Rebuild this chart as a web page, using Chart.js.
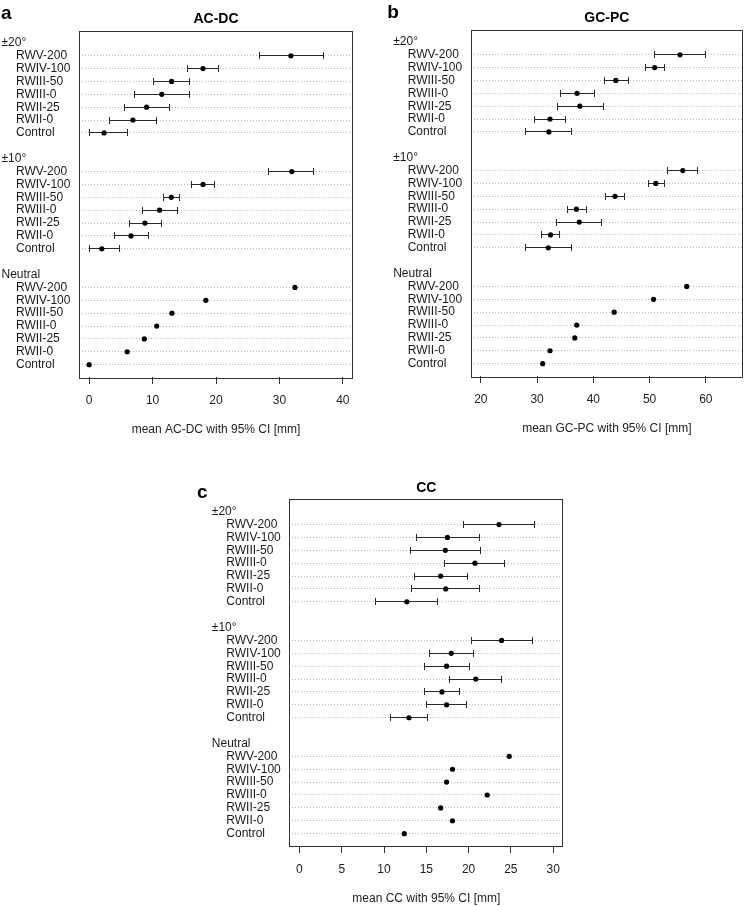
<!DOCTYPE html>
<html>
<head>
<meta charset="utf-8">
<script src="https://cdn.jsdelivr.net/npm/chart.js@4.4.1/dist/chart.umd.min.js"></script>
<style>
  html, body { margin: 0; padding: 0; background: #fff; overflow: hidden; }
  body { width: 747px; height: 906px; position: relative; }
  canvas { position: absolute; }
</style>
</head>
<body>
<canvas id="chartA" width="370" height="445" style="left:0;top:0"></canvas>
<canvas id="chartB" width="377" height="445" style="left:370px;top:0"></canvas>
<canvas id="chartC" width="400" height="466" style="left:190px;top:440px"></canvas>
<script>
// categories and groups (top to bottom)
const groups = ['±20°', '±10°', 'Neutral'];
const categories = ['RWV-200', 'RWIV-100', 'RWIII-50', 'RWIII-0', 'RWII-25', 'RWII-0', 'Control'];

// AC-DC [mm]
const acdc20Mean = [31.8, 17.95, 13.0, 11.45, 9.05, 6.9, 2.35];
const acdc20Lo   = [26.8, 15.5, 10.2, 7.15, 5.55, 3.2, 0.0];
const acdc20Hi   = [36.9, 20.4, 15.75, 15.75, 12.6, 10.55, 6.05];
const acdc10Mean = [31.95, 17.95, 12.95, 11.1, 8.8, 6.6, 2.0];
const acdc10Lo   = [28.35, 16.2, 11.75, 8.4, 6.3, 4.0, 0.0];
const acdc10Hi   = [35.4, 19.8, 14.2, 13.9, 11.35, 9.3, 4.85];
const acdcNeutral = [32.45, 18.4, 13.05, 10.65, 8.7, 6.0, 0.0];
const acdcTicks = [0, 10, 20, 30, 40];

// GC-PC [mm]
const gcpc20Mean = [55.4, 50.9, 44.0, 37.1, 37.6, 32.3, 32.1];
const gcpc20Lo   = [50.8, 49.2, 42.0, 34.1, 33.6, 29.5, 27.9];
const gcpc20Hi   = [60.0, 52.6, 46.2, 40.2, 41.8, 35.0, 36.2];
const gcpc10Mean = [55.9, 51.1, 43.85, 37.0, 37.5, 32.4, 32.0];
const gcpc10Lo   = [53.2, 49.8, 42.2, 35.4, 33.4, 30.8, 27.9];
const gcpc10Hi   = [58.6, 52.6, 45.5, 38.7, 41.5, 34.0, 36.1];
const gcpcNeutral = [56.6, 50.7, 43.7, 37.05, 36.7, 32.3, 31.0];
const gcpcTicks = [20, 30, 40, 50, 60];

// CC [mm]
const cc20Mean = [23.6, 17.5, 17.25, 20.75, 16.7, 17.3, 12.7];
const cc20Lo   = [19.4, 13.8, 13.1, 17.2, 13.6, 13.3, 9.05];
const cc20Hi   = [27.75, 21.25, 21.4, 24.3, 19.85, 21.25, 16.35];
const cc10Mean = [23.9, 17.95, 17.4, 20.85, 16.85, 17.4, 12.95];
const cc10Lo   = [20.3, 15.4, 14.75, 17.8, 14.8, 15.05, 10.8];
const cc10Hi   = [27.6, 20.55, 20.1, 23.9, 18.95, 19.7, 15.1];
const ccNeutral = [24.8, 18.1, 17.4, 22.2, 16.7, 18.1, 12.4];
const ccTicks = [0, 5, 10, 15, 20, 25, 30];

const FONT = "'Liberation Sans', Arial, sans-serif";
const groupRows = [0, 9, 18];  // header row of each group, items follow

// row index -> category label
const rowLabels = {};
groupRows.forEach(g => categories.forEach((c, i) => { rowLabels[g + 1 + i] = c; }));
const itemRows = Object.keys(rowLabels).map(Number);

// draws the CI whiskers, the frame, group headers, title and panel letter
const panelDecor = {
  id: 'panelDecor',
  beforeDatasetsDraw(chart) {
    const { ctx, scales: { x, y } } = chart;
    ctx.save();
    ctx.strokeStyle = '#2a2a2a';
    ctx.lineWidth = 1;
    chart.data.datasets[0].data.forEach(p => {
      if (p.lo == null) return;
      const py = Math.round(y.getPixelForValue(p.y) - 0.5) + 0.5;
      const x1 = Math.round(x.getPixelForValue(p.lo) - 0.5) + 0.5;
      const x2 = Math.round(x.getPixelForValue(p.hi) - 0.5) + 0.5;
      ctx.beginPath();
      ctx.moveTo(x1, py); ctx.lineTo(x2, py);
      ctx.moveTo(x1, py - 3.5); ctx.lineTo(x1, py + 3.5);
      ctx.moveTo(x2, py - 3.5); ctx.lineTo(x2, py + 3.5);
      ctx.stroke();
    });
    ctx.restore();
  },
  afterDraw(chart, args, opts) {
    const { ctx, chartArea: a, scales: { y } } = chart;
    ctx.save();
    ctx.strokeStyle = '#333';
    ctx.lineWidth = 1;
    ctx.strokeRect(Math.round(a.left) + 0.5, Math.round(a.top) + 0.5,
                   Math.round(a.right - a.left) - 1, Math.round(a.bottom - a.top));
    // group headers
    ctx.fillStyle = '#1a1a1a';
    ctx.font = '12px ' + FONT;
    ctx.textAlign = 'left';
    ctx.textBaseline = 'middle';
    groupRows.forEach((r, i) => ctx.fillText(groups[i], a.left - 77.5, y.getPixelForValue(r)));
    // title
    ctx.fillStyle = '#000';
    ctx.font = 'bold 14px ' + FONT;
    ctx.textAlign = 'center';
    ctx.fillText(opts.title, (a.left + a.right) / 2, a.top - 11.5);
    // panel letter
    ctx.font = 'bold 19px ' + FONT;
    ctx.textAlign = 'left';
    ctx.textBaseline = 'alphabetic';
    ctx.fillText(opts.letter, opts.letterX, opts.letterY);
    ctx.restore();
  }
};

function makePanel(id, p) {
  const pts = [];
  [[p.m20, p.lo20, p.hi20], [p.m10, p.lo10, p.hi10], [p.neutral]].forEach((s, gi) => {
    s[0].forEach((v, i) => {
      const pt = { x: v, y: groupRows[gi] + 1 + i };
      if (s[1]) { pt.lo = s[1][i]; pt.hi = s[2][i]; }
      pts.push(pt);
    });
  });

  const canvas = document.getElementById(id);
  const W = canvas.width, H = canvas.height;

  new Chart(canvas.getContext('2d'), {
    type: 'scatter',
    data: {
      datasets: [{
        data: pts,
        pointRadius: 2.6,
        pointBackgroundColor: '#000',
        pointBorderWidth: 0
      }]
    },
    plugins: [panelDecor],
    options: {
      responsive: false,
      animation: false,
      events: [],
      layout: {
        padding: { left: p.box.left - 63, right: W - p.box.right, top: p.box.top, bottom: 0 }
      },
      plugins: {
        legend: { display: false },
        tooltip: { enabled: false },
        panelDecor: { title: p.title, letter: p.letter, letterX: p.letterX, letterY: p.letterY }
      },
      scales: {
        x: {
          type: 'linear',
          min: p.xMin,
          max: p.xMax,
          afterBuildTicks: s => { s.ticks = p.ticks.map(v => ({ value: v })); },
          afterFit: s => { s.height = H - p.box.bottom; },
          grid: { drawOnChartArea: false, drawTicks: true, tickLength: 7, color: '#333' },
          border: { display: false },
          ticks: {
            autoSkip: false, maxRotation: 0, padding: 9,
            color: '#222', font: { family: FONT, size: 12 },
            callback: v => String(v)
          },
          title: {
            display: true, text: p.axisTitle, color: '#222',
            font: { family: FONT, size: 12 },
            padding: { top: 0, bottom: p.titlePad }
          }
        },
        y: {
          type: 'linear',
          reverse: true,
          min: -0.96,
          max: 25.96,
          afterBuildTicks: s => { s.ticks = itemRows.map(v => ({ value: v })); },
          afterFit: s => { s.width = 63; },
          grid: { color: '#b4b4b4', lineWidth: 1, drawTicks: false, tickLength: 0 },
          border: { display: false, dash: [1, 2] },
          ticks: {
            autoSkip: false, crossAlign: 'far', padding: 0,
            color: '#1a1a1a', font: { family: FONT, size: 12 },
            callback: v => rowLabels[v] || ''
          }
        }
      }
    }
  });
}

makePanel('chartA', {
  title: 'AC-DC', letter: 'a', letterX: 1, letterY: 18.5,
  axisTitle: 'mean AC-DC with 95% CI [mm]',
  box: { left: 79, right: 353, top: 30.5, bottom: 377 }, titlePad: 7.8,
  xMin: -1.6, xMax: 41.6, ticks: acdcTicks,
  m20: acdc20Mean, lo20: acdc20Lo, hi20: acdc20Hi,
  m10: acdc10Mean, lo10: acdc10Lo, hi10: acdc10Hi,
  neutral: acdcNeutral
});

makePanel('chartB', {
  title: 'GC-PC', letter: 'b', letterX: 17.3, letterY: 18.3,
  axisTitle: 'mean GC-PC with 95% CI [mm]',
  box: { left: 100.7, right: 373.3, top: 29.5, bottom: 376 }, titlePad: 8.8,
  xMin: 18.2, xMax: 66.6, ticks: gcpcTicks,
  m20: gcpc20Mean, lo20: gcpc20Lo, hi20: gcpc20Hi,
  m10: gcpc10Mean, lo10: gcpc10Lo, hi10: gcpc10Hi,
  neutral: gcpcNeutral
});

makePanel('chartC', {
  title: 'CC', letter: 'c', letterX: 7, letterY: 57.5,
  axisTitle: 'mean CC with 95% CI [mm]',
  box: { left: 99.3, right: 373.3, top: 59.3, bottom: 406 }, titlePad: 0,
  xMin: -1.2, xMax: 31.2, ticks: ccTicks,
  m20: cc20Mean, lo20: cc20Lo, hi20: cc20Hi,
  m10: cc10Mean, lo10: cc10Lo, hi10: cc10Hi,
  neutral: ccNeutral
});
</script>
</body>
</html>
